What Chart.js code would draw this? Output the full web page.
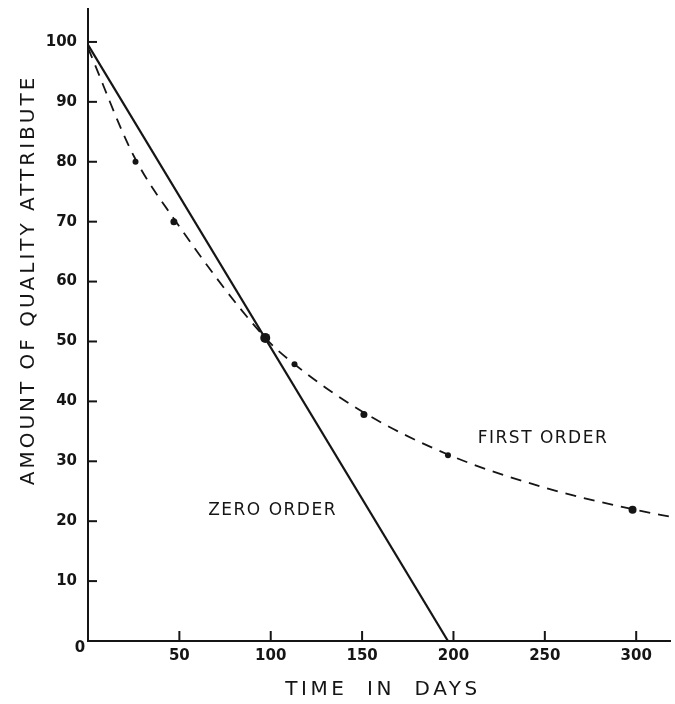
<!DOCTYPE html>
<html>
<head>
<meta charset="utf-8">
<script src="https://cdn.jsdelivr.net/npm/chart.js@4/dist/chart.umd.min.js"></script>
<style>
  html, body { margin: 0; padding: 0; background: #fff; }
  #wrap { width: 675px; height: 704px; position: relative; }
</style>
</head>
<body>
<div id="wrap"><canvas id="chart"></canvas></div>
<script>
const INK = "#151515";
const FONT = "'DejaVu Sans', sans-serif";

// tick labels
const X_TICKS = [0, 50, 100, 150, 200, 250, 300];
const Y_TICKS = [0, 10, 20, 30, 40, 50, 60, 70, 80, 90, 100];

// zero order (straight line)
const ZERO_X = [0, 197];
const ZERO_Y = [99.5, 0];

// first order (dashed curve)
const FIRST_X = [0, 25, 47, 97, 113, 150, 198, 250, 298, 321];
const FIRST_Y = [99, 81, 70.5, 50.6, 46.2, 38.3, 31, 25.6, 22, 20.6];

// measured points
const MARK_X = [26, 47, 97, 113, 151, 197, 298];
const MARK_Y = [80, 70, 50.6, 46.2, 37.8, 31, 21.9];
const MARK_R = [3, 3.5, 5, 3, 3.5, 3, 4];

// curve labels
const LABELS = [
  {text: "ZERO ORDER", x: 101, y: 21.7},
  {text: "FIRST ORDER", x: 249, y: 33.8},
];

const pts = (xs, ys) => xs.map((x, i) => ({x, y: ys[i]}));

const inkPlugin = {
  id: "ink",
  afterDraw(chart) {
    const {ctx, chartArea: a, scales: {x, y}} = chart;
    ctx.save();
    ctx.strokeStyle = INK;
    ctx.lineWidth = 2;
    // ticks point inward
    X_TICKS.filter(v => v > 0).forEach(v => {
      const px = x.getPixelForValue(v);
      ctx.beginPath(); ctx.moveTo(px, a.bottom); ctx.lineTo(px, a.bottom - 10); ctx.stroke();
    });
    Y_TICKS.filter(v => v > 0).forEach(v => {
      const py = y.getPixelForValue(v);
      ctx.beginPath(); ctx.moveTo(a.left, py); ctx.lineTo(a.left + 9, py); ctx.stroke();
    });
    ctx.fillStyle = INK;
    ctx.textAlign = "center";
    ctx.textBaseline = "middle";
    ctx.font = "17px " + FONT;
    ctx.letterSpacing = "1.5px";
    LABELS.forEach(l => ctx.fillText(l.text, x.getPixelForValue(l.x), y.getPixelForValue(l.y)));
    // the lone 0 sits at the corner
    ctx.font = "bold 15px " + FONT;
    ctx.letterSpacing = "0px";
    ctx.fillText("0", 80, 648);
    // axis titles
    ctx.font = "20px " + FONT;
    ctx.letterSpacing = "3.5px";
    ctx.fillText("TIME  IN  DAYS", 383, 690);
    ctx.translate(29, 280);
    ctx.rotate(-Math.PI / 2);
    ctx.letterSpacing = "3px";
    ctx.fillText("AMOUNT OF QUALITY ATTRIBUTE", 0, 0);
    ctx.restore();
  }
};

new Chart(document.getElementById("chart"), {
  type: "scatter",
  data: {
    datasets: [
      {
        data: pts(ZERO_X, ZERO_Y),
        showLine: true,
        borderColor: INK,
        borderWidth: 2.2,
        pointRadius: 0,
      },
      {
        data: pts(FIRST_X, FIRST_Y),
        showLine: true,
        borderColor: INK,
        borderWidth: 1.8,
        borderDash: [11, 8],
        cubicInterpolationMode: "monotone",
        pointRadius: 0,
      },
      {
        data: pts(MARK_X, MARK_Y),
        backgroundColor: INK,
        borderColor: INK,
        pointRadius: MARK_R,
        borderWidth: 0,
      },
    ],
  },
  options: {
    responsive: true,
    maintainAspectRatio: false,
    animation: false,
    layout: {padding: {top: 9, right: 0}},
    plugins: {legend: {display: false}, tooltip: {enabled: false}},
    scales: {
      x: {
        type: "linear",
        min: 0,
        max: 318.5,
        grid: {drawOnChartArea: false, drawTicks: false},
        border: {display: true, color: INK, width: 2},
        afterBuildTicks: s => { s.ticks = X_TICKS.map(v => ({value: v})); },
        afterFit: s => { s.height = 63; s.paddingLeft = 0; s.paddingRight = 0; },
        ticks: {
          color: INK, font: {size: 15, family: FONT, weight: "bold"}, padding: 6, maxRotation: 0,
          callback: v => (v === 0 ? "" : v),
        },
      },
      y: {
        min: 0,
        max: 105.5,
        grid: {drawOnChartArea: false, drawTicks: false},
        border: {display: true, color: INK, width: 2},
        afterBuildTicks: s => { s.ticks = Y_TICKS.map(v => ({value: v})); },
        afterFit: s => { s.width = 88; s.paddingTop = 0; s.paddingBottom = 0; },
        ticks: {
          color: INK, font: {size: 15, family: FONT, weight: "bold"}, padding: 11,
          callback: v => (v === 0 ? "" : v),
        },
      },
    },
  },
  plugins: [inkPlugin],
});
</script>
</body>
</html>
